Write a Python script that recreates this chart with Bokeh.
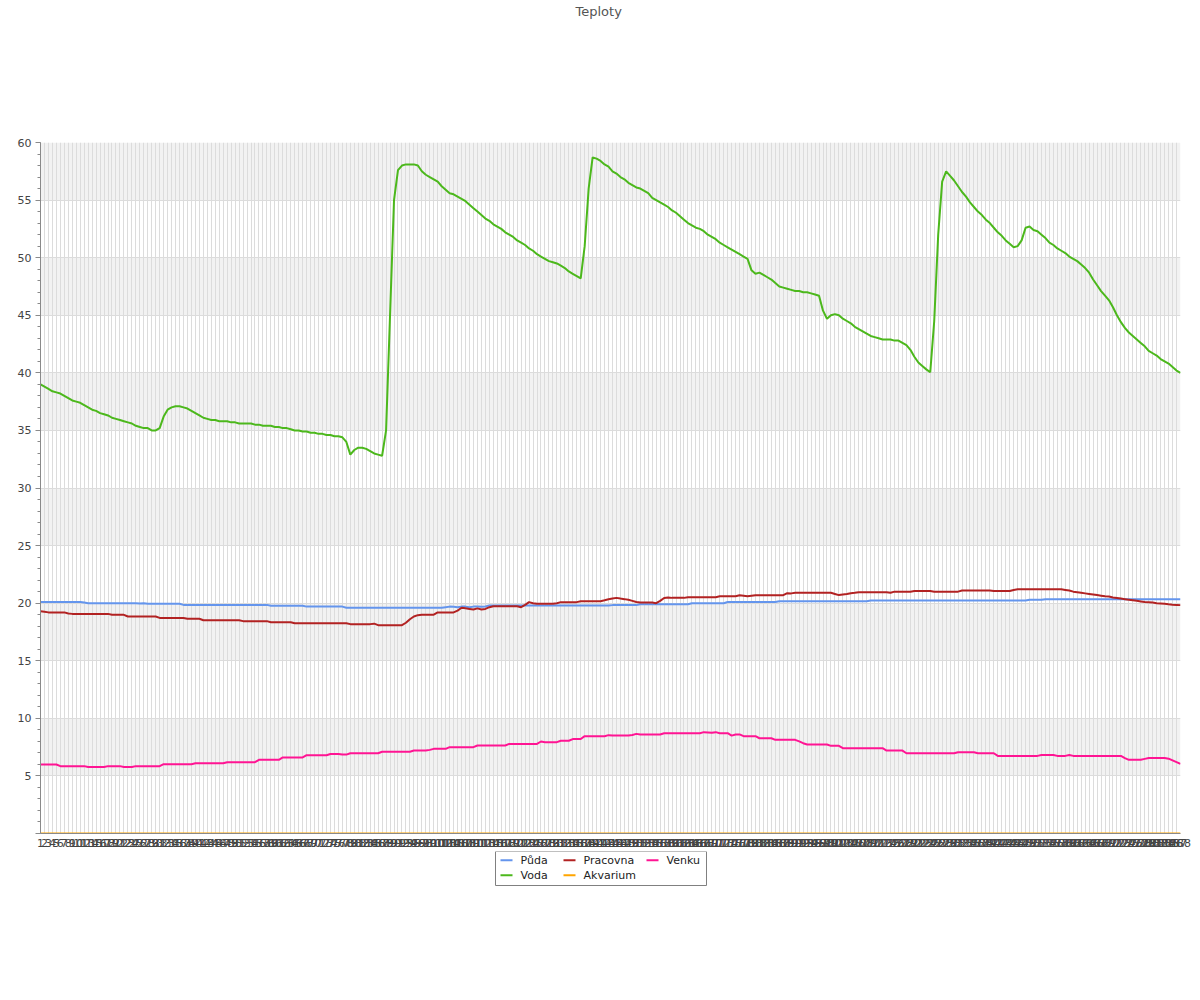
from bokeh.plotting import figure
from bokeh.models import Range1d, FixedTicker, Title
from bokeh.layouts import column
from bokeh.core.properties import value
from bokeh.embed import file_html
from bokeh.resources import INLINE

labels = [str(i) for i in range(1, 289)]
x = list(range(1, 289))

series_names = ["Půda", "Voda", "Pracovna", "Akvarium", "Venku"]
series_colors = ["#6495ED", "#4cb81c", "#B22222", "#FFA500", "#FF1493"]

puda = [
    20.1, 20.1, 20.1, 20.1, 20.1, 20.1, 20.1, 20.1, 20.1, 20.1, 20.1, 20.05,
    20.0, 20.0, 20.0, 20.0, 20.0, 20.0, 20.0, 20.0, 20.0, 20.0, 20.0, 20.0,
    20.0, 19.97, 20.0, 19.95, 19.95, 19.95, 19.95, 19.95, 19.95, 19.95, 19.95, 19.95,
    19.85, 19.85, 19.85, 19.85, 19.85, 19.85, 19.85, 19.85, 19.85, 19.85, 19.85, 19.85,
    19.85, 19.85, 19.85, 19.85, 19.85, 19.85, 19.85, 19.85, 19.85, 19.85, 19.78, 19.78,
    19.78, 19.78, 19.78, 19.78, 19.78, 19.78, 19.78, 19.7, 19.7, 19.7, 19.7, 19.7,
    19.7, 19.7, 19.7, 19.7, 19.7, 19.6, 19.6, 19.6, 19.6, 19.6, 19.6, 19.6,
    19.6, 19.6, 19.6, 19.6, 19.6, 19.6, 19.6, 19.6, 19.6, 19.6, 19.6, 19.6,
    19.6, 19.6, 19.6, 19.6, 19.6, 19.6, 19.65, 19.7, 19.68, 19.65, 19.7, 19.7,
    19.65, 19.7, 19.7, 19.68, 19.72, 19.8, 19.8, 19.8, 19.8, 19.8, 19.8, 19.8,
    19.8, 19.8, 19.8, 19.8, 19.8, 19.8, 19.8, 19.8, 19.8, 19.8, 19.8, 19.8,
    19.8, 19.8, 19.8, 19.8, 19.8, 19.8, 19.8, 19.8, 19.8, 19.8, 19.8, 19.8,
    19.83, 19.83, 19.83, 19.83, 19.83, 19.83, 19.83, 19.9, 19.9, 19.9, 19.9, 19.9,
    19.9, 19.9, 19.9, 19.9, 19.9, 19.9, 19.9, 19.9, 20.0, 20.0, 20.0, 20.0,
    20.0, 20.0, 20.0, 20.0, 20.0, 20.1, 20.1, 20.1, 20.1, 20.1, 20.1, 20.1,
    20.1, 20.1, 20.1, 20.1, 20.1, 20.1, 20.17, 20.17, 20.17, 20.17, 20.17, 20.17,
    20.17, 20.17, 20.17, 20.17, 20.17, 20.17, 20.17, 20.17, 20.17, 20.17, 20.17, 20.17,
    20.17, 20.17, 20.17, 20.17, 20.17, 20.23, 20.23, 20.23, 20.23, 20.23, 20.23, 20.23,
    20.23, 20.23, 20.23, 20.23, 20.23, 20.23, 20.23, 20.23, 20.23, 20.23, 20.23, 20.23,
    20.23, 20.23, 20.23, 20.23, 20.23, 20.23, 20.23, 20.23, 20.23, 20.23, 20.23, 20.23,
    20.23, 20.23, 20.23, 20.23, 20.23, 20.23, 20.23, 20.23, 20.23, 20.3, 20.3, 20.3,
    20.3, 20.35, 20.35, 20.35, 20.35, 20.35, 20.35, 20.35, 20.35, 20.35, 20.35, 20.35,
    20.35, 20.35, 20.35, 20.35, 20.35, 20.35, 20.35, 20.35, 20.35, 20.35, 20.35, 20.35,
    20.35, 20.35, 20.35, 20.35, 20.35, 20.35, 20.35, 20.35, 20.35, 20.35, 20.35, 20.35,
]

voda = [
    39.0, 38.8, 38.6, 38.4, 38.3, 38.2, 38.0, 37.8, 37.6, 37.5, 37.4, 37.2,
    37.0, 36.8, 36.7, 36.5, 36.4, 36.3, 36.1, 36.0, 35.9, 35.8, 35.7, 35.6,
    35.4, 35.3, 35.2, 35.2, 35.0, 35.0, 35.2, 36.2, 36.8, 37.0, 37.1, 37.1,
    37.0, 36.9, 36.7, 36.5, 36.3, 36.1, 36.0, 35.9, 35.9, 35.8, 35.8, 35.8,
    35.7, 35.7, 35.6, 35.6, 35.6, 35.6, 35.5, 35.5, 35.4, 35.4, 35.4, 35.3,
    35.3, 35.2, 35.2, 35.1, 35.0, 35.0, 34.9, 34.9, 34.8, 34.8, 34.7, 34.7,
    34.6, 34.6, 34.5, 34.5, 34.4, 34.0, 32.9, 33.3, 33.5, 33.5, 33.4, 33.2,
    33.0, 32.9, 32.8, 35.0, 45.0, 55.0, 57.6, 58.0, 58.1, 58.1, 58.1, 58.0,
    57.5, 57.2, 57.0, 56.8, 56.6, 56.2, 55.9, 55.6, 55.5, 55.3, 55.1, 54.9,
    54.6, 54.3, 54.0, 53.7, 53.4, 53.2, 52.9, 52.7, 52.5, 52.2, 52.0, 51.8,
    51.5, 51.3, 51.1, 50.8, 50.6, 50.3, 50.1, 49.9, 49.7, 49.6, 49.5, 49.3,
    49.1, 48.8, 48.6, 48.4, 48.2, 51.0, 56.0, 58.7, 58.6, 58.4, 58.1, 57.9,
    57.5, 57.3, 57.0, 56.8, 56.5, 56.3, 56.1, 56.0, 55.8, 55.6, 55.2, 55.0,
    54.8, 54.6, 54.4, 54.1, 53.9, 53.6, 53.3, 53.0, 52.8, 52.6, 52.5, 52.3,
    52.0, 51.8, 51.6, 51.3, 51.1, 50.9, 50.7, 50.5, 50.3, 50.1, 49.9, 48.9,
    48.6, 48.7, 48.5, 48.3, 48.1, 47.8, 47.5, 47.4, 47.3, 47.2, 47.1, 47.1,
    47.0, 47.0, 46.9, 46.8, 46.7, 45.4, 44.7, 45.0, 45.1, 45.0, 44.7, 44.5,
    44.3, 44.0, 43.8, 43.6, 43.4, 43.2, 43.1, 43.0, 42.9, 42.9, 42.9, 42.8,
    42.8, 42.6, 42.4, 42.0, 41.4, 40.9, 40.6, 40.3, 40.05, 44.5, 52.0, 56.6,
    57.5, 57.1, 56.7, 56.2, 55.7, 55.3, 54.8, 54.4, 54.0, 53.7, 53.3, 53.0,
    52.6, 52.2, 51.9, 51.5, 51.2, 50.9, 51.0, 51.5, 52.6, 52.7, 52.4, 52.3,
    52.0, 51.7, 51.3, 51.1, 50.8, 50.6, 50.4, 50.1, 49.9, 49.7, 49.4, 49.1,
    48.7, 48.1, 47.6, 47.1, 46.7, 46.3, 45.7, 45.0, 44.4, 43.9, 43.5, 43.2,
    42.9, 42.6, 42.3, 41.9, 41.7, 41.5, 41.2, 41.0, 40.8, 40.5, 40.2, 40.0,
]

pracovna = [
    19.3, 19.25, 19.2, 19.2, 19.2, 19.2, 19.2, 19.1, 19.07, 19.07, 19.07, 19.07,
    19.07, 19.07, 19.07, 19.07, 19.07, 19.07, 18.99, 18.99, 18.99, 18.99, 18.84, 18.84,
    18.84, 18.84, 18.84, 18.84, 18.84, 18.84, 18.72, 18.72, 18.72, 18.72, 18.72, 18.72,
    18.72, 18.65, 18.65, 18.65, 18.65, 18.52, 18.52, 18.52, 18.52, 18.52, 18.52, 18.52,
    18.52, 18.52, 18.52, 18.44, 18.44, 18.44, 18.44, 18.44, 18.44, 18.44, 18.35, 18.35,
    18.35, 18.35, 18.35, 18.35, 18.26, 18.26, 18.26, 18.26, 18.26, 18.26, 18.26, 18.26,
    18.26, 18.26, 18.26, 18.26, 18.26, 18.26, 18.18, 18.18, 18.18, 18.18, 18.18, 18.18,
    18.22, 18.09, 18.09, 18.09, 18.09, 18.09, 18.09, 18.09, 18.3, 18.6, 18.84, 18.96,
    19.0, 19.0, 19.0, 19.0, 19.2, 19.2, 19.2, 19.2, 19.2, 19.35, 19.6, 19.55,
    19.5, 19.45, 19.55, 19.45, 19.5, 19.65, 19.74, 19.74, 19.74, 19.74, 19.74, 19.74,
    19.74, 19.65, 19.85, 20.09, 20.0, 19.94, 19.94, 19.94, 19.94, 19.94, 20.0, 20.09,
    20.09, 20.09, 20.09, 20.09, 20.17, 20.17, 20.17, 20.17, 20.17, 20.17, 20.25, 20.34,
    20.4, 20.46, 20.4, 20.35, 20.29, 20.2, 20.1, 20.05, 20.05, 20.05, 20.05, 20.0,
    20.2, 20.45, 20.5, 20.46, 20.46, 20.46, 20.46, 20.52, 20.52, 20.52, 20.52, 20.52,
    20.52, 20.52, 20.52, 20.6, 20.6, 20.6, 20.6, 20.6, 20.69, 20.65, 20.6, 20.65,
    20.69, 20.69, 20.69, 20.69, 20.69, 20.69, 20.69, 20.69, 20.87, 20.85, 20.9, 20.9,
    20.9, 20.9, 20.9, 20.9, 20.9, 20.9, 20.9, 20.9, 20.8, 20.7, 20.75, 20.8,
    20.87, 20.9, 20.95, 20.95, 20.95, 20.95, 20.95, 20.95, 20.95, 20.95, 20.9, 21.0,
    21.0, 21.0, 21.0, 21.0, 21.05, 21.05, 21.05, 21.05, 21.05, 21.0, 21.0, 21.0,
    21.0, 21.0, 21.0, 21.0, 21.1, 21.1, 21.1, 21.1, 21.1, 21.1, 21.1, 21.1,
    21.05, 21.05, 21.05, 21.05, 21.05, 21.15, 21.2, 21.2, 21.2, 21.2, 21.2, 21.2,
    21.2, 21.2, 21.2, 21.2, 21.2, 21.2, 21.15, 21.1, 21.0, 20.95, 20.9, 20.85,
    20.8, 20.75, 20.7, 20.65, 20.6, 20.57, 20.5, 20.45, 20.4, 20.35, 20.3, 20.25,
    20.2, 20.15, 20.1, 20.08, 20.05, 20.0, 19.97, 19.94, 19.9, 19.87, 19.85, 19.83,
]

akvarium = [
    0, 0, 0, 0, 0, 0, 0, 0, 0, 0, 0, 0,
    0, 0, 0, 0, 0, 0, 0, 0, 0, 0, 0, 0,
    0, 0, 0, 0, 0, 0, 0, 0, 0, 0, 0, 0,
    0, 0, 0, 0, 0, 0, 0, 0, 0, 0, 0, 0,
    0, 0, 0, 0, 0, 0, 0, 0, 0, 0, 0, 0,
    0, 0, 0, 0, 0, 0, 0, 0, 0, 0, 0, 0,
    0, 0, 0, 0, 0, 0, 0, 0, 0, 0, 0, 0,
    0, 0, 0, 0, 0, 0, 0, 0, 0, 0, 0, 0,
    0, 0, 0, 0, 0, 0, 0, 0, 0, 0, 0, 0,
    0, 0, 0, 0, 0, 0, 0, 0, 0, 0, 0, 0,
    0, 0, 0, 0, 0, 0, 0, 0, 0, 0, 0, 0,
    0, 0, 0, 0, 0, 0, 0, 0, 0, 0, 0, 0,
    0, 0, 0, 0, 0, 0, 0, 0, 0, 0, 0, 0,
    0, 0, 0, 0, 0, 0, 0, 0, 0, 0, 0, 0,
    0, 0, 0, 0, 0, 0, 0, 0, 0, 0, 0, 0,
    0, 0, 0, 0, 0, 0, 0, 0, 0, 0, 0, 0,
    0, 0, 0, 0, 0, 0, 0, 0, 0, 0, 0, 0,
    0, 0, 0, 0, 0, 0, 0, 0, 0, 0, 0, 0,
    0, 0, 0, 0, 0, 0, 0, 0, 0, 0, 0, 0,
    0, 0, 0, 0, 0, 0, 0, 0, 0, 0, 0, 0,
    0, 0, 0, 0, 0, 0, 0, 0, 0, 0, 0, 0,
    0, 0, 0, 0, 0, 0, 0, 0, 0, 0, 0, 0,
    0, 0, 0, 0, 0, 0, 0, 0, 0, 0, 0, 0,
    0, 0, 0, 0, 0, 0, 0, 0, 0, 0, 0, 0,
]

venku = [
    5.99, 5.99, 5.99, 5.99, 5.99, 5.85, 5.85, 5.85, 5.85, 5.85, 5.85, 5.85,
    5.77, 5.77, 5.77, 5.77, 5.77, 5.85, 5.85, 5.85, 5.85, 5.77, 5.77, 5.77,
    5.85, 5.85, 5.85, 5.85, 5.85, 5.85, 5.85, 6.02, 6.02, 6.02, 6.02, 6.02,
    6.02, 6.02, 6.02, 6.1, 6.1, 6.1, 6.1, 6.1, 6.1, 6.1, 6.1, 6.19,
    6.19, 6.19, 6.19, 6.19, 6.19, 6.19, 6.19, 6.4, 6.4, 6.4, 6.4, 6.4,
    6.4, 6.6, 6.6, 6.6, 6.6, 6.6, 6.6, 6.8, 6.8, 6.8, 6.8, 6.8,
    6.8, 6.9, 6.9, 6.9, 6.85, 6.85, 6.97, 6.97, 6.97, 6.97, 6.97, 6.97,
    6.97, 6.97, 7.1, 7.1, 7.1, 7.1, 7.1, 7.1, 7.1, 7.1, 7.2, 7.2,
    7.2, 7.2, 7.26, 7.35, 7.35, 7.35, 7.35, 7.5, 7.5, 7.5, 7.5, 7.5,
    7.5, 7.5, 7.64, 7.64, 7.64, 7.64, 7.64, 7.64, 7.64, 7.64, 7.78, 7.78,
    7.78, 7.78, 7.78, 7.78, 7.78, 7.78, 7.99, 7.93, 7.93, 7.93, 7.93, 8.05,
    8.05, 8.05, 8.2, 8.2, 8.2, 8.45, 8.45, 8.45, 8.45, 8.45, 8.45, 8.54,
    8.5, 8.5, 8.5, 8.5, 8.5, 8.55, 8.65, 8.6, 8.6, 8.6, 8.6, 8.6,
    8.6, 8.71, 8.71, 8.71, 8.71, 8.71, 8.71, 8.71, 8.71, 8.71, 8.71, 8.8,
    8.77, 8.74, 8.8, 8.71, 8.71, 8.71, 8.5, 8.6, 8.6, 8.45, 8.45, 8.45,
    8.45, 8.27, 8.27, 8.27, 8.27, 8.13, 8.13, 8.13, 8.13, 8.13, 8.13, 8.0,
    7.84, 7.73, 7.73, 7.73, 7.73, 7.73, 7.73, 7.61, 7.61, 7.61, 7.41, 7.41,
    7.41, 7.41, 7.41, 7.41, 7.41, 7.41, 7.41, 7.41, 7.41, 7.2, 7.2, 7.2,
    7.2, 7.2, 6.97, 6.97, 6.97, 6.97, 6.97, 6.97, 6.97, 6.97, 6.97, 6.97,
    6.97, 6.97, 6.97, 7.06, 7.06, 7.06, 7.06, 7.06, 6.97, 6.97, 6.97, 6.97,
    6.97, 6.74, 6.74, 6.74, 6.74, 6.74, 6.74, 6.74, 6.74, 6.74, 6.74, 6.74,
    6.82, 6.82, 6.82, 6.82, 6.74, 6.74, 6.74, 6.82, 6.74, 6.74, 6.74, 6.74,
    6.74, 6.74, 6.74, 6.74, 6.74, 6.74, 6.74, 6.74, 6.74, 6.55, 6.4, 6.4,
    6.4, 6.4, 6.48, 6.55, 6.55, 6.55, 6.55, 6.55, 6.5, 6.35, 6.2, 6.05,
]

FONT = "DejaVu Sans"

# ---------------- main chart ----------------
p = figure(width=1200, height=851, output_backend="svg",
           toolbar_location=None, x_range=Range1d(1, 288), y_range=Range1d(0, 60),
           min_border_left=40, min_border_right=20, min_border_top=142,
           min_border_bottom=18, background_fill_color="white",
           border_fill_color="white", outline_line_color=None)

spacer = Title(text=" ", text_font=FONT, text_font_size="13px", standoff=102)
title = Title(text="Teploty", align="left", offset=535, vertical_align="top",
              standoff=6, text_font=FONT, text_font_size="13px",
              text_font_style="normal", text_color="#555555")
p.add_layout(spacer, "above")
p.add_layout(title, "above")

yticks = [0, 5, 10, 15, 20, 25, 30, 35, 40, 45, 50, 55, 60]
p.yaxis.ticker = FixedTicker(ticks=yticks, minor_ticks=list(range(0, 61)))
p.yaxis.major_label_overrides = {0: ""}
p.yaxis.axis_line_color = "#8a8a8a"
p.yaxis.major_tick_line_color = "#8a8a8a"
p.yaxis.minor_tick_line_color = "#8a8a8a"
p.yaxis.major_tick_out = 5
p.yaxis.major_tick_in = 0
p.yaxis.minor_tick_out = 3
p.yaxis.minor_tick_in = 0
p.yaxis.major_label_standoff = 4
p.yaxis.major_label_text_font = FONT
p.yaxis.major_label_text_font_size = "11px"
p.yaxis.major_label_text_color = "#444444"

p.xaxis.ticker = FixedTicker(ticks=x)
p.xaxis.major_label_overrides = {xi: lab for xi, lab in zip(x, labels)}
p.xaxis.axis_line_color = "#8a8a8a"
p.xaxis.major_tick_out = 0
p.xaxis.major_tick_in = 0
p.xaxis.minor_tick_line_color = None
p.xaxis.major_label_standoff = 5
p.xaxis.major_label_text_font = FONT
p.xaxis.major_label_text_font_size = "11px"
p.xaxis.major_label_text_color = "#444444"

p.xgrid.ticker = FixedTicker(ticks=x)
p.xgrid.grid_line_color = "#dcdcdc"
p.ygrid.ticker = FixedTicker(ticks=yticks)
p.ygrid.grid_line_color = "#dcdcdc"
p.ygrid.band_fill_color = "#f2f2f2"
p.ygrid.band_fill_alpha = 1.0
p.center = [p.ygrid[0], p.xgrid[0]]

for ys, col in zip([puda, voda, pracovna, akvarium, venku], series_colors):
    p.line(x, ys, line_color=col, line_width=2)

# ---------------- legend panel (drawn below the chart) ----------------
# its frame is aligned with the main chart's frame (page x 40..1180),
# so the x range is expressed in page pixels
lg = figure(width=1200, height=60, output_backend="svg", toolbar_location=None,
            x_range=Range1d(40, 1180), y_range=Range1d(60, 0),
            x_axis_location=None, y_axis_location=None,
            min_border_left=40, min_border_right=20, min_border_top=0,
            min_border_bottom=0, outline_line_color=None,
            background_fill_color="white", border_fill_color="white")
lg.xgrid.visible = False
lg.ygrid.visible = False

box_left, box_right, box_top, box_bottom = 495, 706, 0, 34
col_x = [500, 500, 563, 563, 646]      # glyph start of each item
row_y = [8.7, 23.7, 8.7, 23.7, 8.7]     # row centre of each item
glyph_w = 12
gap = 8

lg.quad(left=[box_left], right=[box_right], top=[box_top], bottom=[box_bottom],
        fill_color=None, line_color="#808080", line_width=1)
lg.segment(x0=col_x, y0=row_y, x1=[c + glyph_w for c in col_x], y1=row_y,
           line_color=series_colors, line_width=2)
lg.text(x=[c + glyph_w + gap for c in col_x], y=row_y, text=series_names,
        text_font=value(FONT), text_font_size=value("11px"),
        text_color="#222222", text_baseline="middle", text_align="left")

layout = column(p, lg, spacing=0)
open("out.html", "w", encoding="utf-8").write(file_html(layout, INLINE))
